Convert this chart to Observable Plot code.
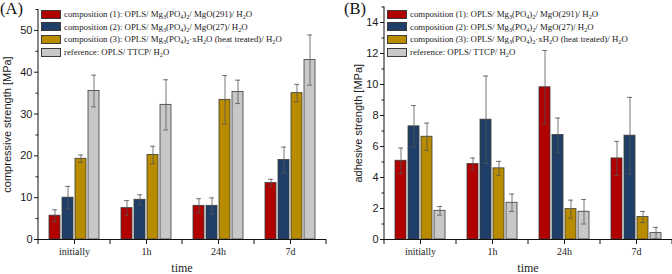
<!DOCTYPE html>
<html>
<head>
<meta charset="utf-8">
<script src="https://cdn.jsdelivr.net/npm/d3@7"></script>
<script src="https://cdn.jsdelivr.net/npm/@observablehq/plot@0.6"></script>
<style>
  html, body { margin: 0; padding: 0; background: #fff; }
  #wrap { display: flex; width: 672px; height: 274px; overflow: hidden; }
  .panel { position: relative; width: 336px; height: 274px; }
  .panel svg { display: block; }
  .plabel { position: absolute; left: 0; top: 0; font-family: "Liberation Serif", serif; font-size: 16.5px; line-height: 18px; color: #111; }
  .legend { position: absolute; top: 8px; font-family: "Liberation Serif", serif; font-size: 8.8px; color: #1a1a1a; }
  .legend .row { display: flex; align-items: center; height: 12.6px; white-space: nowrap; }
  .legend .sw { width: 18px; height: 7px; border: 1px solid #3b3b3b; margin-right: 3px; flex: none; }
  .legend sub { font-size: 70%; vertical-align: -0.25em; line-height: 0; }
</style>
</head>
<body>
<div id="wrap"></div>
<script>
// ---------- data ----------
const times = ["initially", "1h", "24h", "7d"];
const seriesKeys = ["comp1", "comp2", "comp3", "reference"];
const seriesLabels = [
  "composition (1): OPLS/ Mg<sub>3</sub>(PO<sub>4</sub>)<sub>2</sub>/ MgO(291)/ H<sub>2</sub>O",
  "composition (2): OPLS/ Mg<sub>3</sub>(PO<sub>4</sub>)<sub>2</sub>/ MgO(27)/ H<sub>2</sub>O",
  "composition (3): OPLS/ Mg<sub>3</sub>(PO<sub>4</sub>)<sub>2</sub>·xH<sub>2</sub>O (heat treated)/ H<sub>2</sub>O",
  "reference: OPLS/ TTCP/ H<sub>2</sub>O"
];
const seriesColors = ["#b00000", "#1f3f68", "#b98c00", "#c8c8c8"];

// (A) compressive strength [MPa]
const compComp1 = [5.7, 7.5, 8.05, 13.5];
const compComp1Err = [1.4, 1.8, 1.7, 0.9];
const compComp2 = [10.0, 9.5, 8.05, 19.0];
const compComp2Err = [2.7, 1.2, 1.9, 3.1];
const compComp3 = [19.3, 20.2, 33.4, 35.0];
const compComp3Err = [0.9, 2.1, 5.8, 2.1];
const compRef = [35.5, 32.2, 35.3, 42.9];
const compRefErr = [3.8, 6.0, 2.8, 6.0];
const compTicks = [0, 10, 20, 30, 40, 50];
const compMinorTicks = [5, 15, 25, 35, 45, 55];

// (B) adhesive strength [MPa]
const adhComp1 = [5.08, 4.87, 9.82, 5.23];
const adhComp1Err = [0.82, 0.39, 2.37, 1.1];
const adhComp2 = [7.3, 7.73, 6.74, 6.7];
const adhComp2Err = [1.34, 2.82, 1.1, 2.47];
const adhComp3 = [6.63, 4.59, 1.96, 1.45];
const adhComp3Err = [0.88, 0.45, 0.58, 0.36];
const adhRef = [1.85, 2.37, 1.79, 0.41];
const adhRefErr = [0.28, 0.56, 0.79, 0.37];
const adhTicks = [0, 2, 4, 6, 8, 10, 12, 14];
const adhMinorTicks = [1, 3, 5, 7, 9, 11, 13, 15];

// ---------- drawing ----------
function makePanel(cfg) {
  const data = [];
  seriesKeys.forEach((k, si) => times.forEach((t, ti) =>
    data.push({time: t, series: k, value: cfg.means[si][ti], err: cfg.errs[si][ti]})));

  const errStyle = {stroke: "#555", strokeWidth: 0.8};
  const plot = Plot.plot({
    width: 336, height: 274,
    marginTop: cfg.marginTop, marginBottom: 35,
    marginLeft: cfg.marginLeft, marginRight: cfg.marginRight,
    style: {background: "white", color: "#1a1a1a", fontFamily: "Liberation Sans, Arial, sans-serif", fontSize: "11px", overflow: "visible"},
    fx: {domain: times, padding: 0, axis: null, label: null},
    x: {domain: seriesKeys, paddingInner: 0.154, paddingOuter: 0.846, axis: null},
    y: {domain: cfg.yDomain, axis: null},
    color: {domain: seriesKeys, range: seriesColors},
    marks: [
      Plot.barY(data, {fx: "time", x: "series", y: "value", fill: "series", stroke: "#3b3b3b", strokeWidth: 0.8}),
      Plot.ruleX(data, {fx: "time", x: "series", y1: d => d.value - d.err, y2: d => d.value + d.err, ...errStyle}),
      Plot.tickY(data, {fx: "time", x: "series", y: d => d.value + d.err, insetLeft: 3, insetRight: 3, ...errStyle}),
      Plot.tickY(data, {fx: "time", x: "series", y: d => d.value - d.err, insetLeft: 3, insetRight: 3, ...errStyle}),
      Plot.ruleY([0], {stroke: "#111", strokeWidth: 1}),
      Plot.axisY({ticks: cfg.majorTicks, tickSize: 4, tickPadding: 2, fontSize: 11,
        label: cfg.yLabel, labelAnchor: "center", labelOffset: cfg.labelOffset, labelArrow: "none"}),
      Plot.axisY({ticks: cfg.minorTicks, tickSize: 2.5, tickFormat: () => "", label: null}),
      Plot.axisFx({anchor: "bottom", tickSize: 5, tickPadding: 3, fontFamily: "Liberation Serif, serif", fontSize: 10, label: null})
    ]
  });

  // axis lines and group-boundary ticks from the library's scales
  const fx = plot.scale("fx");
  const y = plot.scale("y");
  const svg = d3.select(plot);
  const y0 = y.apply(0);
  const yTop = y.apply(cfg.yDomain[1]);
  const left = fx.range[0], right = fx.range[1];
  const g = svg.append("g").attr("stroke", "#111").attr("stroke-width", 1);
  g.append("line").attr("x1", left).attr("x2", left).attr("y1", y0 + 0.5).attr("y2", yTop);
  const bounds = times.map(t => fx.apply(t)).concat([right]);
  bounds.forEach(b => g.append("line").attr("x1", b).attr("x2", b).attr("y1", y0).attr("y2", y0 + 5));
  svg.append("text")
    .attr("x", (left + right) / 2).attr("y", 272)
    .attr("text-anchor", "middle")
    .attr("font-family", "Liberation Serif, serif").attr("font-size", 12)
    .attr("fill", "#1a1a1a")
    .text("time");

  const panel = document.createElement("div");
  panel.className = "panel";
  panel.appendChild(plot);

  const lab = document.createElement("div");
  lab.className = "plabel";
  lab.style.left = cfg.panelLabelLeft + "px";
  lab.textContent = cfg.panelLabel;
  panel.appendChild(lab);

  const legend = document.createElement("div");
  legend.className = "legend";
  legend.style.left = (left + 3) + "px";
  seriesKeys.forEach((k, i) => {
    const row = document.createElement("div");
    row.className = "row";
    const sw = document.createElement("span");
    sw.className = "sw";
    sw.style.background = seriesColors[i];
    const tx = document.createElement("span");
    tx.innerHTML = seriesLabels[i];
    row.appendChild(sw);
    row.appendChild(tx);
    legend.appendChild(row);
  });
  panel.appendChild(legend);
  return panel;
}

const wrap = document.getElementById("wrap");
wrap.appendChild(makePanel({
  means: [compComp1, compComp2, compComp3, compRef],
  errs: [compComp1Err, compComp2Err, compComp3Err, compRefErr],
  yDomain: [0, 55], majorTicks: compTicks, minorTicks: compMinorTicks,
  yLabel: "compressive strength [MPa]", labelOffset: 35,
  marginTop: 9, marginLeft: 38, marginRight: 10,
  panelLabel: "(A)", panelLabelLeft: 0
}));
wrap.appendChild(makePanel({
  means: [adhComp1, adhComp2, adhComp3, adhRef],
  errs: [adhComp1Err, adhComp2Err, adhComp3Err, adhRefErr],
  yDomain: [0, 15], majorTicks: adhTicks, minorTicks: adhMinorTicks,
  yLabel: "adhesive strength [MPa]", labelOffset: 30,
  marginTop: 6.5, marginLeft: 48, marginRight: 0,
  panelLabel: "(B)", panelLabelLeft: 8
}));
</script>
</body>
</html>
